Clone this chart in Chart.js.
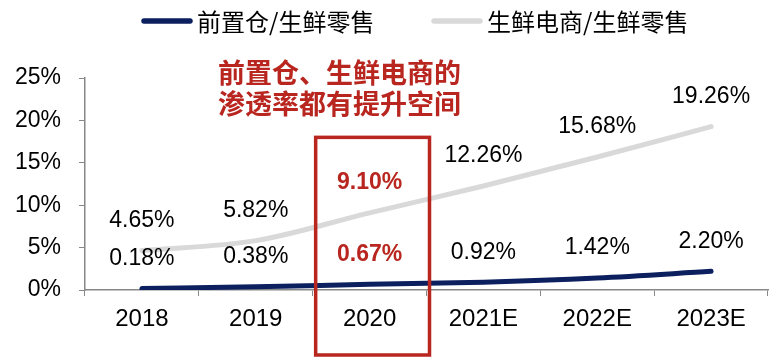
<!DOCTYPE html>
<html>
<head>
<meta charset="utf-8">
<script src="https://cdn.jsdelivr.net/npm/chart.js@4"></script>
<style>
  html, body { margin: 0; padding: 0; background: #fff; }
  canvas { display: block; }
</style>
</head>
<body>
<canvas id="chart" width="777" height="364"></canvas>
<script>
// Data
const years = ['2018', '2019', '2020', '2021E', '2022E', '2023E'];
const frontWarehouse = [0.18, 0.38, 0.67, 0.92, 1.42, 2.20];
const freshEcommerce = [4.65, 5.82, 9.10, 12.26, 15.68, 19.26];
const seriesNames = ['前置仓/生鲜零售', '生鲜电商/生鲜零售'];
const noteLines = ['前置仓、生鲜电商的', '渗透率都有提升空间'];
const highlightIndex = 2;

const NAVY = '#0c1f5e';
const GRAY = '#d9d9d9';
const RED = '#b8261f';
const NUM_FONT = '"Liberation Sans", Arial, sans-serif';
const CJK_FONT = '"Noto Sans CJK SC", "Noto Sans", sans-serif';

// value labels above each point, the 2020 ones in red bold
const valueLabels = {
  id: 'valueLabels',
  afterDatasetsDraw(chart) {
    const ctx = chart.ctx;
    ctx.save();
    ctx.textAlign = 'center';
    ctx.textBaseline = 'middle';
    chart.data.datasets.forEach((ds, di) => {
      chart.getDatasetMeta(di).data.forEach((pt, i) => {
        const hot = i === highlightIndex;
        ctx.font = (hot ? 'bold ' : '') + '23px ' + NUM_FONT;
        ctx.fillStyle = hot ? RED : '#000';
        ctx.fillText(ds.data[i].toFixed(2) + '%', pt.x, pt.y - 30);
      });
    });
    ctx.restore();
  }
};

// red frame round 2020 and the note text
const highlight = {
  id: 'highlight',
  afterDraw(chart) {
    const ctx = chart.ctx;
    const xs = chart.scales.x;
    const ys = chart.scales.y;
    const cx = xs.getPixelForValue(highlightIndex);
    const half = (xs.getPixelForValue(1) - xs.getPixelForValue(0)) / 2;
    ctx.save();
    ctx.strokeStyle = RED;
    ctx.lineWidth = 3.5;
    ctx.strokeRect(cx - half + 3, ys.getPixelForValue(18), half * 2, 355 - ys.getPixelForValue(18));

    ctx.fillStyle = RED;
    ctx.font = 'bold 27px ' + CJK_FONT;
    ctx.textAlign = 'center';
    ctx.textBaseline = 'middle';
    noteLines.forEach((line, i) => ctx.fillText(line, cx - 30, 73 + i * 31));
    ctx.restore();
  }
};

// legend drawn by hand
const lineLegend = {
  id: 'lineLegend',
  afterDraw(chart) {
    const ctx = chart.ctx;
    const starts = [141, 431];
    ctx.save();
    chart.data.datasets.forEach((ds, i) => {
      const x = starts[i];
      ctx.strokeStyle = ds.borderColor;
      ctx.lineWidth = 5.5;
      ctx.lineCap = 'round';
      ctx.beginPath();
      ctx.moveTo(x + 3, 21);
      ctx.lineTo(x + 49, 21);
      ctx.stroke();

      ctx.fillStyle = '#000';
      ctx.font = '24px ' + CJK_FONT;
      ctx.textBaseline = 'middle';
      ctx.fillText(ds.label, x + 56, 22);
    });
    ctx.restore();
  }
};

new Chart(document.getElementById('chart'), {
  type: 'line',
  data: {
    labels: years,
    datasets: [
      {
        label: seriesNames[0],
        data: frontWarehouse,
        borderColor: NAVY,
        borderWidth: 5,
        cubicInterpolationMode: 'monotone',
        borderCapStyle: 'round',
        pointRadius: 0
      },
      {
        label: seriesNames[1],
        data: freshEcommerce,
        borderColor: GRAY,
        borderWidth: 5,
        cubicInterpolationMode: 'monotone',
        borderCapStyle: 'round',
        pointRadius: 0
      }
    ]
  },
  options: {
    responsive: false,
    animation: false,
    layout: { padding: { top: 78, right: 9, left: 0, bottom: 0 } },
    plugins: {
      legend: { display: false },
      tooltip: { enabled: false }
    },
    scales: {
      x: {
        offset: true,
        grid: { offset: true, drawOnChartArea: false, drawTicks: true, tickLength: 6, color: '#888' },
        border: { color: '#888', width: 1.5 },
        ticks: { color: '#000', font: { family: NUM_FONT, size: 24 }, padding: 9 },
        afterFit(scale) { scale.height = 74; }
      },
      y: {
        min: 0,
        max: 25,
        grid: { drawOnChartArea: false, drawTicks: true, tickLength: 6, color: '#888' },
        border: { color: '#888', width: 1.5 },
        ticks: {
          stepSize: 5,
          color: '#000',
          font: { family: NUM_FONT, size: 23 },
          padding: 18,
          callback: v => v + '%'
        },
        afterFit(scale) { scale.width = 85; }
      }
    }
  },
  plugins: [valueLabels, highlight, lineLegend]
});
</script>
</body>
</html>
